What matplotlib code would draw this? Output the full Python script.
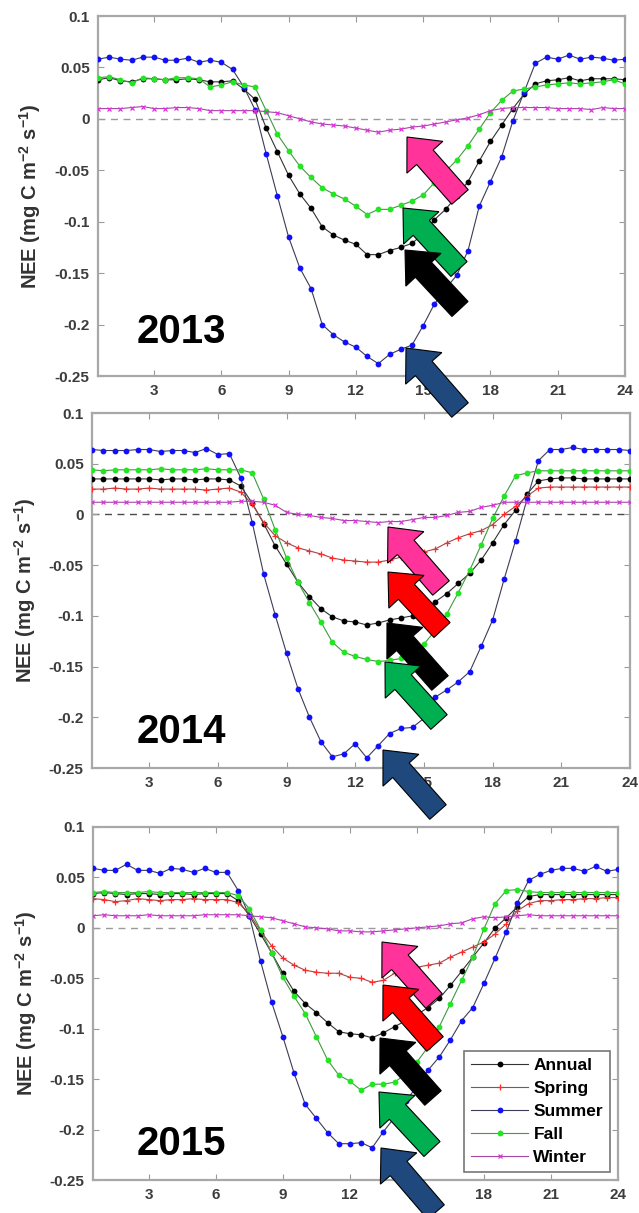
import numpy as np
import matplotlib
matplotlib.use("Agg")
import matplotlib.pyplot as plt
from matplotlib.patches import FancyArrow
from matplotlib.ticker import FuncFormatter

plt.rcParams['font.family'] = ['Liberation Sans', 'DejaVu Sans']
plt.rcParams['font.weight'] = 'bold'
plt.rcParams['axes.labelweight'] = 'bold'
plt.rcParams['mathtext.fontset'] = 'custom'
plt.rcParams['mathtext.rm'] = 'Liberation Sans:bold'
plt.rcParams['mathtext.default'] = 'rm'

# Half-hourly diel course of NEE (mg C m-2 s-1), hour 0.5 ... 24
hours = np.arange(0.5, 24.01, 0.5)

years = ["2013", "2014", "2015"]
seasons = ["Annual", "Spring", "Summer", "Fall", "Winter"]

annual_2013 = [0.038, 0.040, 0.037, 0.036, 0.039, 0.039, 0.038, 0.038, 0.039, 0.038, 0.036, 0.036,
               0.037, 0.029, 0.019, -0.009, -0.032, -0.055, -0.073, -0.087, -0.105, -0.113, -0.118, -0.122,
               -0.132, -0.132, -0.128, -0.125, -0.121, -0.112, -0.098, -0.088, -0.075, -0.061, -0.041, -0.022,
               -0.006, 0.010, 0.024, 0.034, 0.037, 0.038, 0.040, 0.037, 0.039, 0.039, 0.039, 0.038]
summer_2013 = [0.058, 0.060, 0.058, 0.057, 0.060, 0.060, 0.057, 0.057, 0.059, 0.055, 0.057, 0.055,
               0.048, 0.031, 0.009, -0.034, -0.075, -0.115, -0.145, -0.165, -0.200, -0.210, -0.217, -0.222,
               -0.231, -0.238, -0.229, -0.224, -0.220, -0.201, -0.180, -0.165, -0.152, -0.128, -0.085, -0.061,
               -0.037, -0.002, 0.026, 0.054, 0.060, 0.058, 0.062, 0.058, 0.060, 0.059, 0.057, 0.058]
fall_2013 = [0.040, 0.041, 0.038, 0.035, 0.040, 0.039, 0.038, 0.040, 0.040, 0.039, 0.031, 0.033,
             0.036, 0.033, 0.031, 0.008, -0.015, -0.031, -0.046, -0.057, -0.067, -0.073, -0.078, -0.085,
             -0.093, -0.088, -0.088, -0.084, -0.080, -0.074, -0.062, -0.051, -0.040, -0.026, -0.010, 0.006,
             0.018, 0.027, 0.029, 0.031, 0.033, 0.034, 0.035, 0.034, 0.035, 0.036, 0.038, 0.034]
winter_2013 = [0.010, 0.010, 0.010, 0.011, 0.012, 0.010, 0.010, 0.011, 0.011, 0.010, 0.008, 0.008,
               0.008, 0.008, 0.008, 0.007, 0.006, 0.003, 0.000, -0.003, -0.005, -0.006, -0.007, -0.009,
               -0.011, -0.013, -0.011, -0.010, -0.008, -0.007, -0.005, -0.003, -0.001, 0.001, 0.004, 0.008,
               0.010, 0.011, 0.011, 0.011, 0.011, 0.010, 0.010, 0.010, 0.009, 0.011, 0.010, 0.010]

annual_2014 = [0.035, 0.035, 0.035, 0.035, 0.035, 0.035, 0.034, 0.035, 0.035, 0.034, 0.035, 0.035,
               0.034, 0.028, 0.011, -0.009, -0.031, -0.049, -0.067, -0.081, -0.093, -0.101, -0.105, -0.106,
               -0.109, -0.107, -0.104, -0.102, -0.100, -0.095, -0.086, -0.078, -0.068, -0.058, -0.045, -0.028,
               -0.010, 0.004, 0.020, 0.033, 0.035, 0.036, 0.036, 0.035, 0.035, 0.035, 0.035, 0.035]
spring_2014 = [0.025, 0.025, 0.026, 0.025, 0.025, 0.026, 0.025, 0.025, 0.025, 0.025, 0.024, 0.025,
               0.026, 0.022, 0.010, -0.008, -0.021, -0.028, -0.033, -0.036, -0.039, -0.043, -0.045, -0.046,
               -0.047, -0.047, -0.045, -0.042, -0.040, -0.037, -0.034, -0.028, -0.023, -0.019, -0.016, -0.010,
               0.000, 0.008, 0.018, 0.026, 0.027, 0.027, 0.027, 0.027, 0.027, 0.027, 0.027, 0.027]
summer_2014 = [0.064, 0.063, 0.063, 0.063, 0.064, 0.064, 0.062, 0.063, 0.063, 0.061, 0.065, 0.059,
               0.060, 0.036, -0.008, -0.059, -0.099, -0.137, -0.172, -0.200, -0.224, -0.239, -0.236, -0.226,
               -0.240, -0.228, -0.216, -0.211, -0.210, -0.201, -0.180, -0.173, -0.165, -0.155, -0.130, -0.104,
               -0.064, -0.026, 0.015, 0.053, 0.064, 0.064, 0.066, 0.064, 0.064, 0.064, 0.064, 0.063]
fall_2014 = [0.044, 0.043, 0.044, 0.044, 0.044, 0.044, 0.045, 0.044, 0.044, 0.044, 0.045, 0.044,
             0.044, 0.044, 0.041, 0.015, -0.015, -0.043, -0.067, -0.087, -0.106, -0.126, -0.136, -0.140,
             -0.143, -0.145, -0.144, -0.142, -0.137, -0.128, -0.114, -0.098, -0.077, -0.055, -0.030, -0.004,
             0.018, 0.038, 0.041, 0.043, 0.043, 0.043, 0.043, 0.043, 0.043, 0.043, 0.043, 0.043]
winter_2014 = [0.012, 0.012, 0.012, 0.012, 0.012, 0.012, 0.012, 0.012, 0.012, 0.012, 0.012, 0.012,
               0.012, 0.013, 0.013, 0.012, 0.009, 0.002, 0.000, -0.001, -0.003, -0.004, -0.006, -0.006,
               -0.007, -0.008, -0.007, -0.007, -0.005, -0.003, -0.003, -0.001, 0.002, 0.003, 0.007, 0.009,
               0.012, 0.012, 0.012, 0.012, 0.012, 0.012, 0.012, 0.012, 0.012, 0.012, 0.012, 0.012]

annual_2015 = [0.034, 0.035, 0.034, 0.033, 0.034, 0.034, 0.033, 0.034, 0.034, 0.033, 0.034, 0.034,
               0.034, 0.027, 0.012, -0.006, -0.025, -0.045, -0.063, -0.075, -0.084, -0.094, -0.103, -0.105,
               -0.106, -0.109, -0.104, -0.098, -0.092, -0.086, -0.079, -0.070, -0.057, -0.043, -0.029, -0.015,
               0.000, 0.010, 0.021, 0.031, 0.033, 0.033, 0.033, 0.033, 0.033, 0.033, 0.033, 0.033]
spring_2015 = [0.029, 0.028, 0.026, 0.027, 0.029, 0.028, 0.027, 0.028, 0.028, 0.029, 0.028, 0.028,
               0.028, 0.025, 0.014, -0.003, -0.018, -0.030, -0.037, -0.042, -0.044, -0.045, -0.045, -0.049,
               -0.050, -0.054, -0.052, -0.045, -0.042, -0.039, -0.037, -0.035, -0.029, -0.024, -0.019, -0.014,
               -0.006, 0.004, 0.017, 0.024, 0.027, 0.027, 0.028, 0.028, 0.029, 0.029, 0.030, 0.030]
summer_2015 = [0.059, 0.057, 0.057, 0.063, 0.057, 0.057, 0.054, 0.059, 0.058, 0.055, 0.059, 0.055,
               0.055, 0.037, 0.012, -0.033, -0.074, -0.108, -0.144, -0.175, -0.189, -0.203, -0.214, -0.214,
               -0.213, -0.218, -0.202, -0.188, -0.172, -0.157, -0.141, -0.128, -0.111, -0.092, -0.079, -0.055,
               -0.030, -0.004, 0.025, 0.047, 0.053, 0.057, 0.059, 0.059, 0.056, 0.061, 0.056, 0.058]
fall_2015 = [0.035, 0.036, 0.035, 0.035, 0.035, 0.036, 0.035, 0.035, 0.035, 0.035, 0.035, 0.035,
             0.035, 0.032, 0.019, -0.002, -0.025, -0.049, -0.068, -0.085, -0.108, -0.131, -0.146, -0.152,
             -0.161, -0.155, -0.155, -0.153, -0.145, -0.133, -0.118, -0.098, -0.075, -0.052, -0.029, -0.001,
             0.024, 0.037, 0.038, 0.036, 0.035, 0.035, 0.035, 0.035, 0.035, 0.035, 0.035, 0.035]
winter_2015 = [0.012, 0.013, 0.012, 0.012, 0.012, 0.013, 0.012, 0.012, 0.012, 0.012, 0.013, 0.013,
               0.013, 0.013, 0.012, 0.011, 0.010, 0.007, 0.004, 0.001, 0.000, -0.001, -0.003, -0.003,
               -0.004, -0.004, -0.003, -0.002, -0.001, 0.000, 0.001, 0.002, 0.004, 0.005, 0.009, 0.011,
               0.010, 0.011, 0.012, 0.013, 0.012, 0.012, 0.012, 0.012, 0.012, 0.012, 0.012, 0.012]

panel_data = [
    {"Annual": annual_2013, "Spring": None, "Summer": summer_2013, "Fall": fall_2013, "Winter": winter_2013},
    {"Annual": annual_2014, "Spring": spring_2014, "Summer": summer_2014, "Fall": fall_2014, "Winter": winter_2014},
    {"Annual": annual_2015, "Spring": spring_2015, "Summer": summer_2015, "Fall": fall_2015, "Winter": winter_2015},
]

# line colour, marker, marker colour, marker size
styles = {
    "Annual": ("#333333", "o", "#000000", 4.2),
    "Spring": ("#a24848", "+", "#ff2a2a", 5.0),
    "Summer": ("#3c3c55", "o", "#1010ff", 4.2),
    "Fall":   ("#3f9a3f", "o", "#22e622", 4.2),
    "Winter": ("#a448a4", "x", "#dd33dd", 3.0),
}

W, H = 639, 1213
# axes boxes in pixels: left, top, right, bottom
boxes = [(98, 16, 625, 376), (92, 413, 630, 768), (93, 827, 618, 1180)]
zero_colors = ["#9a9a9a", "#4a4a4a", "#9a9a9a"]
ylabel_right = [43, 38, 39]
year_pos = [(137, 343), (137, 743), (137, 1155)]

fig = plt.figure(figsize=(W / 100, H / 100), dpi=100)

fmt = FuncFormatter(lambda v, p: f"{round(v, 3):g}" if abs(v) > 1e-9 else "0")

for i, (l, t, r, b) in enumerate(boxes):
    ax = fig.add_axes([l / W, 1 - b / H, (r - l) / W, (b - t) / H])
    ax.axhline(0, ls=(0, (5, 4)), color=zero_colors[i], lw=1.0, zorder=1)
    for s in seasons:
        vals = panel_data[i][s]
        if vals is None:
            continue
        lc, mk, mc, ms = styles[s]
        ax.plot(hours, vals, color=lc, lw=0.8, marker=mk, ms=ms, mfc=mc, mec=mc,
                mew=0.9 if mk in "+x" else 0, label=s, zorder=3)

    ax.set_xlim(0.5, 24)
    ax.set_ylim(-0.25, 0.1)
    ax.set_xticks(np.arange(3, 25, 3))
    ax.set_yticks(np.arange(-0.25, 0.101, 0.05))
    ax.yaxis.set_major_formatter(fmt)
    ax.tick_params(direction='in', top=True, right=True, length=4, width=0.8,
                   color='#9a9a9a', labelcolor='#3c3c3c', labelsize=11, pad=6)
    for lab in ax.get_xticklabels() + ax.get_yticklabels():
        lab.set_fontweight('bold')
    for sp in ax.spines.values():
        sp.set_color('#a8a8a8')
        sp.set_linewidth(1.6)

    ax.set_ylabel(r'NEE (mg C m$^{-2}$ s$^{-1}$)', fontsize=14.5, fontweight='bold', color='#333333')
    ax.yaxis.set_label_coords((ylabel_right[i] - l) / (r - l), 0.5)

    yx, yy = year_pos[i]
    ax.text((yx - l) / (r - l), (b - yy) / (b - t), years[i], transform=ax.transAxes,
            fontsize=29, fontweight='bold', color='black', ha='left', va='baseline')

    if i == 2:
        leg = ax.legend(loc='lower right', bbox_to_anchor=((610 - l) / (r - l), (b - 1172) / (b - t)),
                        fontsize=12.5, frameon=True, fancybox=False, edgecolor='#555555',
                        handlelength=3.3, handletextpad=0.3, labelspacing=0.45, borderpad=0.4,
                        borderaxespad=0)
        leg.get_frame().set_linewidth(1.2)

# block arrows pointing at the curves: (tip, tail) in pixels, colour
arrows = [
    ((407, 137), (460, 197), "#ff3399"),
    ((403, 208), (459, 269), "#00b050"),
    ((405, 250), (460, 309), "#000000"),
    ((406, 348), (460, 410), "#1f497d"),
    ((388, 527), (441, 588), "#ff3399"),
    ((388, 572), (442, 630), "#ff0000"),
    ((387, 623), (440, 683), "#000000"),
    ((385, 662), (439, 722), "#00b050"),
    ((383, 750), (438, 812), "#1f497d"),
    ((382, 942), (434, 1001), "#ff3399"),
    ((383, 985), (435, 1044), "#ff0000"),
    ((380, 1038), (433, 1098), "#000000"),
    ((379, 1092), (432, 1149), "#00b050"),
    ((381, 1148), (436, 1212), "#1f497d"),
]
for (tx, ty), (sx, sy), col in arrows:
    x0, y0 = sx / 100, (H - sy) / 100
    dx, dy = (tx - sx) / 100, -(ty - sy) / 100
    arr = FancyArrow(x0, y0, dx, dy, width=0.22, head_width=0.48, head_length=0.27,
                     length_includes_head=True, transform=fig.dpi_scale_trans,
                     facecolor=col, edgecolor='black', lw=0.8, zorder=10)
    fig.add_artist(arr)

fig.savefig("out.png", dpi=100)
